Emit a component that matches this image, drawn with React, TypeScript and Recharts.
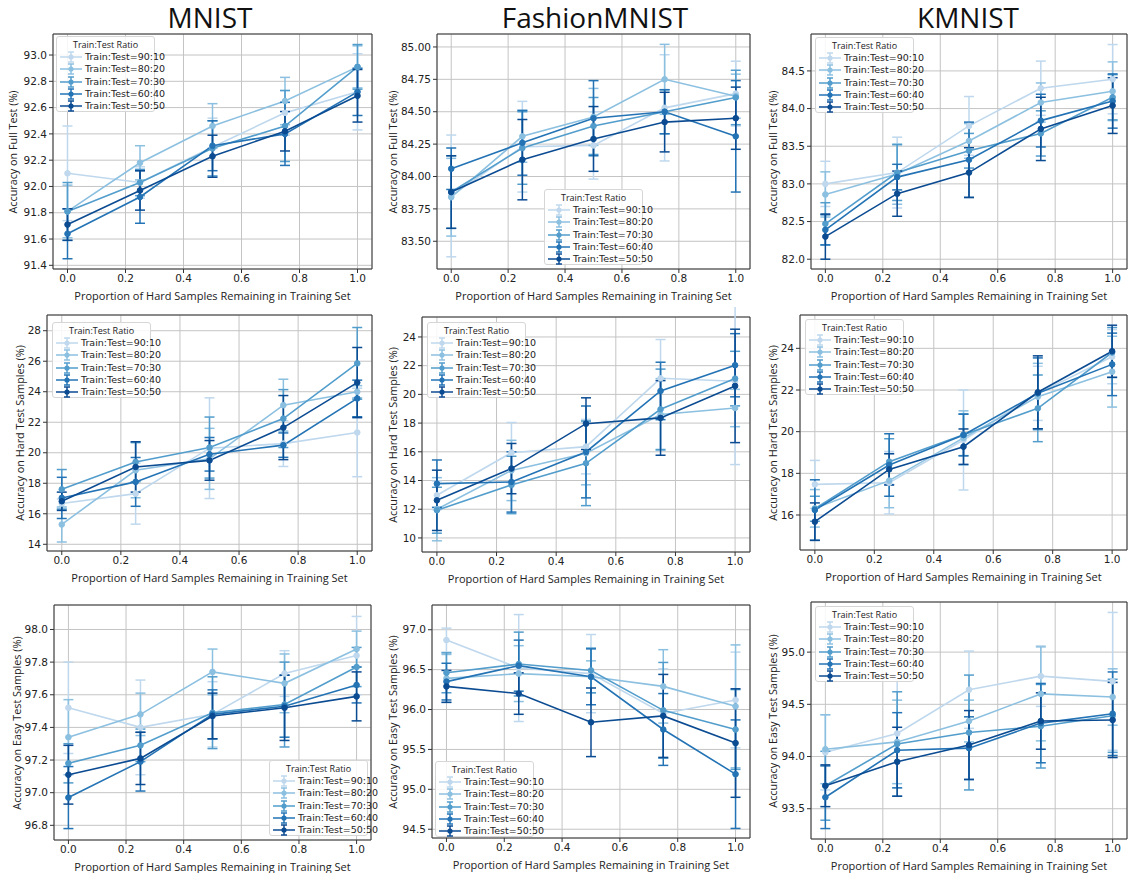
import React from 'react';
import { LineChart, Line, XAxis, YAxis, CartesianGrid, ErrorBar, ReferenceArea } from 'recharts';

// x positions (proportion of hard samples kept) and the five train:test splits
const xs = [0, 0.25, 0.5, 0.75, 1.0];
const ratios = ['90:10', '80:20', '70:30', '60:40', '50:50'];
const colors = ['#bfd8ed', '#8cc0e0', '#529dcc', '#2373b5', '#0b4b92'];
const xTicks = [0, 0.2, 0.4, 0.6, 0.8, 1.0];
const datasets = ['MNIST', 'FashionMNIST', 'KMNIST'];

// row 1: accuracy on full test
const mnistFull = [
  [92.10, 92.03, 92.30, 92.56, 92.72],
  [91.81, 92.18, 92.46, 92.65, 92.91],
  [91.81, 92.03, 92.29, 92.46, 92.91],
  [91.64, 91.92, 92.31, 92.40, 92.72],
  [91.71, 91.97, 92.23, 92.42, 92.69],
];
const mnistFullErr = [
  [0.36, 0.12, 0.22, 0.17, 0.29],
  [0.20, 0.13, 0.17, 0.18, 0.16],
  [0.22, 0.10, 0.21, 0.27, 0.17],
  [0.19, 0.20, 0.19, 0.24, 0.18],
  [0.12, 0.15, 0.16, 0.15, 0.20],
];
const fashionFull = [
  [83.85, 84.23, 84.24, 84.53, 84.64],
  [83.84, 84.31, 84.46, 84.75, 84.62],
  [83.88, 84.22, 84.39, 84.50, 84.61],
  [84.06, 84.26, 84.45, 84.50, 84.31],
  [83.88, 84.13, 84.29, 84.42, 84.45],
];
const fashionFullErr = [
  [0.47, 0.35, 0.26, 0.41, 0.25],
  [0.30, 0.20, 0.22, 0.27, 0.17],
  [0.28, 0.28, 0.22, 0.17, 0.21],
  [0.16, 0.25, 0.29, 0.17, 0.43],
  [0.28, 0.31, 0.25, 0.23, 0.24],
];
const kmnistFull = [
  [83.00, 83.15, 83.77, 84.27, 84.39],
  [82.86, 83.13, 83.57, 84.08, 84.23],
  [82.47, 83.15, 83.44, 83.67, 84.15],
  [82.39, 83.09, 83.32, 83.84, 84.10],
  [82.30, 82.87, 83.15, 83.73, 84.04],
];
const kmnistFullErr = [
  [0.30, 0.47, 0.39, 0.36, 0.46],
  [0.30, 0.40, 0.23, 0.26, 0.39],
  [0.28, 0.37, 0.23, 0.30, 0.30],
  [0.20, 0.17, 0.50, 0.35, 0.36],
  [0.30, 0.30, 0.33, 0.42, 0.37],
];

// row 2: accuracy on hard test samples
const mnistHard = [
  [16.67, 17.32, 20.30, 20.60, 21.33],
  [15.30, 18.85, 19.60, 23.12, 24.00],
  [17.60, 19.40, 20.34, 22.24, 25.86],
  [17.04, 18.09, 19.90, 20.50, 23.56],
  [16.82, 19.07, 19.50, 21.65, 24.60],
];
const mnistHardErr = [
  [0.30, 2.00, 3.30, 1.50, 2.90],
  [1.15, 1.80, 2.00, 1.70, 0.40],
  [1.30, 1.30, 2.00, 1.90, 2.35],
  [1.35, 1.60, 1.10, 0.80, 1.20],
  [0.60, 1.65, 1.30, 2.10, 2.30],
];
const fashionHard = [
  [12.97, 15.94, 16.36, 21.12, 20.91],
  [12.00, 14.70, 15.90, 18.60, 19.05],
  [11.93, 13.69, 15.20, 18.96, 21.10],
  [13.78, 13.90, 15.99, 20.24, 22.03],
  [12.62, 14.83, 17.96, 18.36, 20.59],
];
const fashionHardErr = [
  [1.00, 2.10, 1.90, 2.70, 5.80],
  [2.20, 2.10, 2.20, 2.50, 1.30],
  [1.60, 2.00, 2.95, 2.80, 1.90],
  [1.65, 2.10, 3.20, 2.00, 2.20],
  [2.10, 1.75, 1.80, 2.60, 3.95],
];
const kmnistHard = [
  [17.47, 17.55, 19.60, 21.84, 23.60],
  [16.32, 17.65, 19.70, 21.68, 22.88],
  [16.30, 18.56, 19.85, 21.12, 23.80],
  [16.24, 18.40, 19.84, 21.84, 23.23],
  [15.68, 18.19, 19.28, 21.89, 23.86],
];
const kmnistHardErr = [
  [1.15, 1.50, 2.40, 1.30, 1.30],
  [0.90, 1.30, 1.30, 1.60, 1.70],
  [0.60, 1.10, 1.00, 1.60, 1.20],
  [1.45, 1.50, 1.00, 1.70, 1.50],
  [0.90, 0.75, 0.85, 1.75, 1.25],
];

// row 3: accuracy on easy test samples
const mnistEasy = [
  [97.52, 97.40, 97.48, 97.73, 97.84],
  [97.34, 97.48, 97.74, 97.67, 97.88],
  [97.18, 97.29, 97.49, 97.54, 97.77],
  [96.97, 97.19, 97.48, 97.53, 97.66],
  [97.11, 97.21, 97.47, 97.52, 97.59],
];
const mnistEasyErr = [
  [0.28, 0.29, 0.20, 0.14, 0.24],
  [0.23, 0.13, 0.14, 0.18, 0.11],
  [0.12, 0.10, 0.22, 0.26, 0.12],
  [0.19, 0.18, 0.15, 0.19, 0.11],
  [0.18, 0.16, 0.14, 0.20, 0.15],
];
const fashionEasy = [
  [96.87, 96.52, 96.45, 95.95, 96.12],
  [96.39, 96.45, 96.41, 96.29, 96.04],
  [96.46, 96.57, 96.49, 95.99, 95.75],
  [96.35, 96.55, 96.41, 95.75, 95.19],
  [96.29, 96.20, 95.84, 95.92, 95.58],
];
const fashionEasyErr = [
  [0.15, 0.67, 0.49, 0.56, 0.60],
  [0.30, 0.35, 0.20, 0.46, 0.77],
  [0.25, 0.40, 0.28, 0.60, 0.50],
  [0.23, 0.32, 0.35, 0.45, 0.68],
  [0.20, 0.26, 0.43, 0.52, 0.68],
];
const kmnistEasy = [
  [94.04, 94.22, 94.64, 94.77, 94.72],
  [94.07, 94.14, 94.34, 94.60, 94.57],
  [93.72, 94.12, 94.23, 94.29, 94.39],
  [93.61, 94.06, 94.08, 94.32, 94.41],
  [93.72, 93.95, 94.11, 94.34, 94.35],
];
const kmnistEasyErr = [
  [0.36, 0.52, 0.37, 0.29, 0.66],
  [0.33, 0.40, 0.20, 0.45, 0.27],
  [0.33, 0.50, 0.55, 0.40, 0.35],
  [0.30, 0.36, 0.30, 0.38, 0.40],
  [0.20, 0.33, 0.33, 0.27, 0.36],
];

// y tick labels per panel
const mnistFullTicks = [91.4, 91.6, 91.8, 92.0, 92.2, 92.4, 92.6, 92.8, 93.0];
const fashionFullTicks = [83.5, 83.75, 84.0, 84.25, 84.5, 84.75, 85.0];
const kmnistFullTicks = [82.0, 82.5, 83.0, 83.5, 84.0, 84.5];
const mnistHardTicks = [14, 16, 18, 20, 22, 24, 26, 28];
const fashionHardTicks = [10, 12, 14, 16, 18, 20, 22, 24];
const kmnistHardTicks = [16, 18, 20, 22, 24];
const mnistEasyTicks = [96.8, 97.0, 97.2, 97.4, 97.6, 97.8, 98.0];
const fashionEasyTicks = [94.5, 95.0, 95.5, 96.0, 96.5, 97.0];
const kmnistEasyTicks = [93.5, 94.0, 94.5, 95.0];

const fullLabel = 'Accuracy on Full Test (%)';
const hardLabel = 'Accuracy on Hard Test Samples (%)';
const easyLabel = 'Accuracy on Easy Test Samples (%)';
const xLabel = 'Proportion of Hard Samples Remaining in Training Set';

const tickFont = '"DejaVu Sans", sans-serif';
const labelFont = '"Open Sans", sans-serif';

const buildRows = (vals: number[][], errs: number[][]) =>
  xs.map((x, i) => {
    const row: any = { x };
    vals.forEach((s, k) => {
      row['s' + k] = s[i];
      row['e' + k] = errs[k][i];
    });
    return row;
  });

const panels = [
  { vals: mnistFull, errs: mnistFullErr, ticks: mnistFullTicks, dom: [91.372, 93.16], dec: 1, ylabel: fullLabel, frame: [53, 34, 319, 235], legend: [56, 36], ylx: 13 },
  { vals: fashionFull, errs: fashionFullErr, ticks: fashionFullTicks, dom: [83.286, 85.1], dec: 2, ylabel: fullLabel, frame: [437, 34, 313, 235], legend: [544, 189], ylx: 393 },
  { vals: kmnistFull, errs: kmnistFullErr, ticks: kmnistFullTicks, dom: [81.87, 84.99], dec: 1, ylabel: fullLabel, frame: [811, 34, 316, 235], legend: [815, 37], ylx: 773 },
  { vals: mnistHard, errs: mnistHardErr, ticks: mnistHardTicks, dom: [13.56, 29.03], dec: 0, ylabel: hardLabel, frame: [47, 315, 325, 236], legend: [52, 322], ylx: 20 },
  { vals: fashionHard, errs: fashionHardErr, ticks: fashionHardTicks, dom: [9.02, 25.39], dec: 0, ylabel: hardLabel, frame: [422, 317, 328, 235], legend: [427, 322], ylx: 393 },
  { vals: kmnistHard, errs: kmnistHardErr, ticks: kmnistHardTicks, dom: [14.32, 25.6], dec: 0, ylabel: hardLabel, frame: [800, 315, 327, 235], legend: [805, 319], ylx: 773 },
  { vals: mnistEasy, errs: mnistEasyErr, ticks: mnistEasyTicks, dom: [96.71, 98.15], dec: 1, ylabel: easyLabel, frame: [54, 605, 317, 235], legend: [269, 760], ylx: 17 },
  { vals: fashionEasy, errs: fashionEasyErr, ticks: fashionEasyTicks, dom: [94.39, 97.31], dec: 1, ylabel: easyLabel, frame: [432, 605, 318, 233], legend: [435, 761], ylx: 393 },
  { vals: kmnistEasy, errs: kmnistEasyErr, ticks: kmnistEasyTicks, dom: [93.21, 95.48], dec: 1, ylabel: easyLabel, frame: [811, 602, 316, 237], legend: [815, 606], ylx: 773 },
];

// legend handle: line + errorbar + dot, like matplotlib's errorbar legend
const Handle = ({ color }: { color: string }) => (
  <svg width={22} height={12} style={{ display: 'block', flex: 'none' }}>
    <line x1={0} y1={6} x2={22} y2={6} stroke={color} strokeWidth={1.5} />
    <line x1={11} y1={1} x2={11} y2={11} stroke={color} strokeWidth={1.5} />
    <line x1={8} y1={1} x2={14} y2={1} stroke={color} strokeWidth={1.5} />
    <line x1={8} y1={11} x2={14} y2={11} stroke={color} strokeWidth={1.5} />
    <circle cx={11} cy={6} r={2.6} fill={color} />
  </svg>
);

const LegendBox = ({ left, top }: { left: number; top: number }) => (
  <div
    style={{
      position: 'absolute',
      left,
      top,
      width: 99,
      height: 76,
      border: '1px solid #d6d6d6',
      borderRadius: 3,
      background: 'rgba(255,255,255,0.85)',
      fontFamily: tickFont,
      color: '#222',
      boxSizing: 'border-box',
    }}
  >
    <div style={{ fontSize: 9, textAlign: 'center', marginTop: 2, height: 12, lineHeight: '12px', fontFamily: labelFont }}>
      Train:Test Ratio
    </div>
    {ratios.map((r, k) => (
      <div key={r} style={{ display: 'flex', alignItems: 'center', height: 12.3, marginLeft: 3 }}>
        <Handle color={colors[k]} />
        <span style={{ fontSize: 9.5, lineHeight: '12px', marginLeft: 3, whiteSpace: 'nowrap' }}>Train:Test={r}</span>
      </div>
    ))}
  </div>
);

const Panel = ({ p }: { p: any }) => {
  const [fx, fy, fw, fh] = p.frame;
  const data = buildRows(p.vals, p.errs);
  const padL = 60;
  const padT = 10;
  return (
    <>
      <div style={{ position: 'absolute', left: fx - padL, top: fy - padT }}>
        <LineChart
          width={fw + padL + 10}
          height={fh + padT + 24}
          data={data}
          margin={{ top: padT, right: 10, bottom: 0, left: 0 }}
        >
          <CartesianGrid stroke="#c4c4c4" strokeWidth={1} />
          <XAxis
            dataKey="x"
            type="number"
            domain={[-0.05, 1.05]}
            ticks={xTicks}
            allowDataOverflow
            axisLine={false}
            tickSize={4}
            height={24}
            tickFormatter={(v: number) => v.toFixed(1)}
            tick={{ fill: '#222', fontSize: 10.5, fontFamily: tickFont }}
            tickLine={{ stroke: '#333' }}
          />
          <YAxis
            type="number"
            domain={p.dom}
            ticks={p.ticks}
            allowDataOverflow
            axisLine={false}
            width={padL}
            tickSize={4}
            tickFormatter={(v: number) => v.toFixed(p.dec)}
            tick={{ fill: '#222', fontSize: 10.5, fontFamily: tickFont }}
            tickLine={{ stroke: '#333' }}
          />
          <ReferenceArea
            x1={-0.05}
            x2={1.05}
            y1={p.dom[0]}
            y2={p.dom[1]}
            fill="none"
            stroke="#333"
            strokeWidth={1}
          />
          {ratios.map((r, k) => (
            <Line
              key={r}
              type="linear"
              dataKey={'s' + k}
              name={'Train:Test=' + r}
              stroke={colors[k]}
              strokeWidth={1.6}
              dot={{ r: 2.8, fill: colors[k], stroke: colors[k], strokeWidth: 1 }}
              activeDot={false}
              isAnimationActive={false}
            >
              <ErrorBar dataKey={'e' + k} direction="y" width={5} stroke={colors[k]} strokeWidth={1.5} />
            </Line>
          ))}
        </LineChart>
      </div>
      <div
        style={{
          position: 'absolute',
          left: p.ylx - 120,
          top: fy + fh / 2 - 8,
          width: 240,
          height: 16,
          lineHeight: '16px',
          textAlign: 'center',
          transform: 'rotate(-90deg)',
          fontSize: 10.8,
          fontFamily: labelFont,
          color: '#222',
          whiteSpace: 'nowrap',
        }}
      >
        {p.ylabel}
      </div>
      <div
        style={{
          position: 'absolute',
          left: fx - 20,
          top: fy + fh + 19,
          width: fw + 40,
          height: 16,
          lineHeight: '16px',
          textAlign: 'center',
          fontSize: 11,
          fontFamily: labelFont,
          color: '#222',
          whiteSpace: 'nowrap',
        }}
      >
        {xLabel}
      </div>
      <LegendBox left={p.legend[0]} top={p.legend[1]} />
    </>
  );
};

const titleCenters = [210, 595, 968];

export default function App() {
  return (
    <div style={{ position: 'absolute', left: 0, top: 0, width: 1130, height: 873, background: '#fff' }}>
      {datasets.map((d, i) => (
        <div
          key={d}
          style={{
            position: 'absolute',
            left: titleCenters[i] - 120,
            top: 0,
            width: 240,
            height: 34,
            lineHeight: '34px',
            textAlign: 'center',
            fontSize: 28,
            fontFamily: labelFont,
            color: '#111',
          }}
        >
          {d}
        </div>
      ))}
      {panels.map((p, i) => (
        <Panel key={i} p={p} />
      ))}
    </div>
  );
}
